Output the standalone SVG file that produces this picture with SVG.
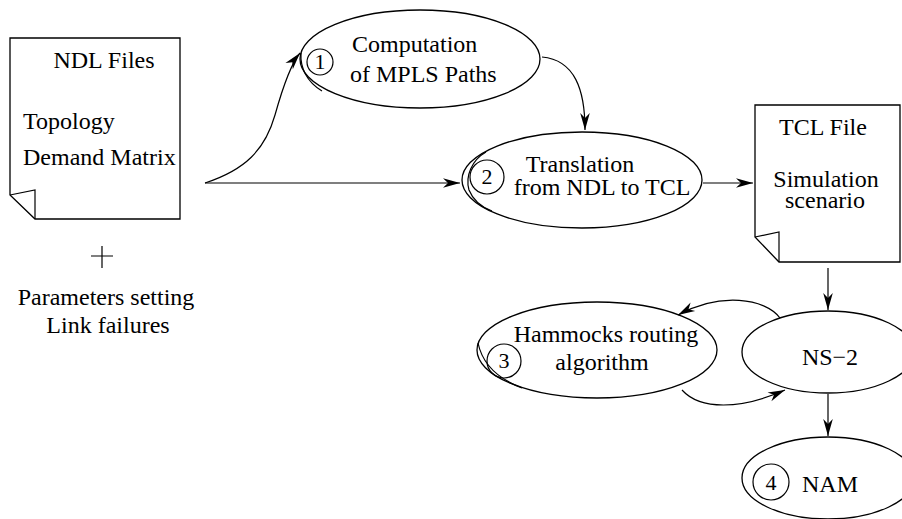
<svg xmlns="http://www.w3.org/2000/svg" width="902" height="519" viewBox="0 0 902 519">
<style>
.t{font-family:"Liberation Serif","Times New Roman",serif;font-size:24px;fill:#000}
.d{font-family:"Liberation Serif","Times New Roman",serif;font-size:22px;fill:#000}
.s{fill:#fff;stroke:#000;stroke-width:1.3}
.n{fill:none;stroke:#000;stroke-width:1.2}
.c{fill:none;stroke:#000;stroke-width:1.2}
</style>
<defs>
<marker id="ah" markerUnits="userSpaceOnUse" orient="auto" markerWidth="30" markerHeight="14" refX="0" refY="0" viewBox="-24 -7 26 14" overflow="visible">
<path d="M0,0 L-17,-4.8 L-12,0 L-17,4.8 Z" fill="#000"/>
</marker>
</defs>
<g id="ndl-files">
<path class="s" d="M10,38 L180,38 L180,219 L35,219 L10,195 Z"/>
<path class="n" d="M10,195 L35,190 L35,219"/>
<text class="t" x="104" y="68" text-anchor="middle">NDL Files</text>
<text class="t" x="23" y="129">Topology</text>
<text class="t" x="23" y="165">Demand Matrix</text>
</g>
<g id="parameters">
<path class="n" d="M91,256 L113,256 M102,246 L102,268"/>
<text class="t" x="106" y="305" text-anchor="middle">Parameters setting</text>
<text class="t" x="108" y="333" text-anchor="middle">Link failures</text>
</g>
<g id="computation">
<ellipse class="s" cx="420" cy="59" rx="120" ry="49"/>
<path class="n" d="M301,53 C300,68 307,82 322,91"/>
<circle class="n" cx="320" cy="62" r="13"/>
<text class="d" x="320" y="69" text-anchor="middle">1</text>
<text class="t" x="352" y="52">Computation</text>
<text class="t" x="350" y="82">of MPLS Paths</text>
</g>
<g id="translation">
<ellipse class="s" cx="582" cy="180" rx="120" ry="48"/>
<path class="n" d="M486,152 C472,160 465,176 469,190 C473,200 481,207 492,211"/>
<circle class="n" cx="487" cy="177" r="17"/>
<text class="d" x="487" y="184" text-anchor="middle">2</text>
<text class="t" x="580" y="172" text-anchor="middle">Translation</text>
<text class="t" x="602" y="195" text-anchor="middle">from NDL to TCL</text>
</g>
<g id="tcl-file">
<path class="s" d="M755,105 L900,105 L900,262 L779,262 L755,237 Z"/>
<path class="n" d="M755,237 L779,232 L779,262"/>
<text class="t" x="823" y="135" text-anchor="middle">TCL File</text>
<text class="t" x="826" y="187" text-anchor="middle">Simulation</text>
<text class="t" x="825" y="208" text-anchor="middle">scenario</text>
</g>
<g id="hammocks">
<ellipse class="s" cx="597" cy="350" rx="120" ry="48"/>
<path class="n" d="M478,343 C482,362 496,378 522,388"/>
<circle class="n" cx="504" cy="361" r="17"/>
<text class="d" x="504" y="368" text-anchor="middle">3</text>
<text class="t" x="606" y="342" text-anchor="middle">Hammocks routing</text>
<text class="t" x="602" y="370" text-anchor="middle">algorithm</text>
</g>
<g id="ns2">
<ellipse class="s" cx="828" cy="352" rx="86" ry="41"/>
<text class="t" x="830" y="365" text-anchor="middle">NS−2</text>
</g>
<g id="nam">
<ellipse class="s" cx="828" cy="478" rx="86" ry="41"/>
<circle class="n" cx="771" cy="482" r="18"/>
<text class="d" x="771" y="490" text-anchor="middle">4</text>
<text class="t" x="830" y="492" text-anchor="middle">NAM</text>
</g>
<g id="connectors">
<path class="c" marker-end="url(#ah)" d="M205,183 C245,170 265,150 275,115 C282,90 290,65 300,53"/>
<path class="c" marker-end="url(#ah)" d="M205,183 L460,183"/>
<path class="c" marker-end="url(#ah)" d="M542,57 C575,60 585,90 585,130"/>
<path class="c" marker-end="url(#ah)" d="M703,183 L753,183"/>
<path class="c" marker-end="url(#ah)" d="M828,268 L828,310"/>
<path class="c" marker-end="url(#ah)" d="M828,394 L828,436"/>
<path class="c" marker-end="url(#ah)" d="M780,318 C765,298 720,292 678,315"/>
<path class="c" marker-end="url(#ah)" d="M682,390 C700,410 740,410 785,390"/>
</g>
</svg>
